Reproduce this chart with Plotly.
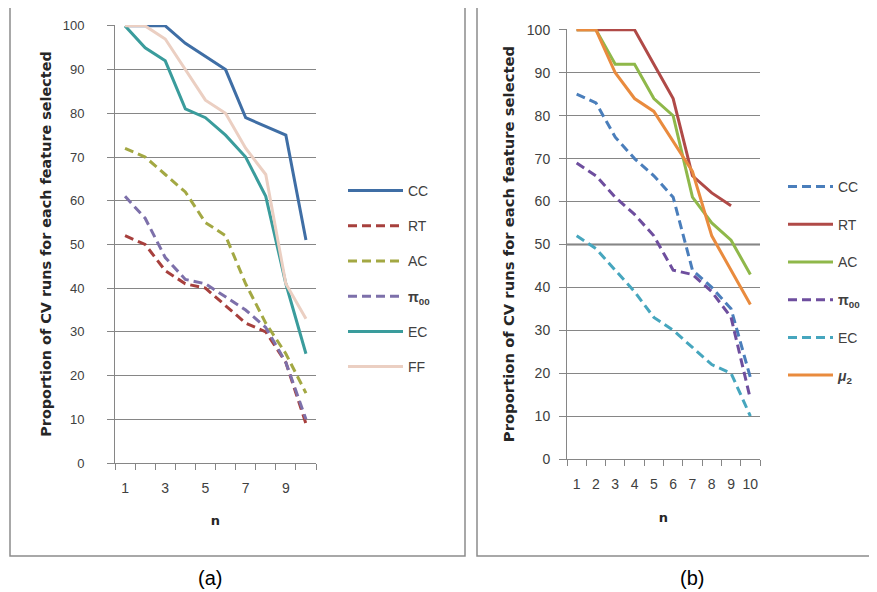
import plotly.graph_objects as go

# ---------------- data ----------------
n = [1, 2, 3, 4, 5, 6, 7, 8, 9, 10]
x_labels_a = ["1", "3", "5", "7", "9"]
x_label_vals_a = [1, 3, 5, 7, 9]
x_labels_b = [str(v) for v in n]
y_ticks = [0, 10, 20, 30, 40, 50, 60, 70, 80, 90, 100]

# panel (a)
cc_a = [100, 100, 100, 96, 93, 90, 79, 77, 75, 51]
rt_a = [52, 50, 44, 41, 40, 36, 32, 30, 23, 9]
ac_a = [72, 70, 66, 62, 55, 52, 41, 32, 25, 16]
m00_a = [61, 56, 47, 42, 41, 38, 35, 31, 23, 10]
ec_a = [100, 95, 92, 81, 79, 75, 70, 61, 41, 25]
ff_a = [100, 100, 97, 90, 83, 80, 72, 66, 41, 33]

# panel (b)
cc_b = [85, 83, 75, 70, 66, 61, 44, 40, 35, 19]
rt_b = [100, 100, 100, 100, 92, 84, 66, 62, 59, None]
ac_b = [100, 100, 92, 92, 84, 80, 61, 55, 51, 43]
m00_b = [69, 66, 61, 57, 52, 44, 43, 39, 33, 14]
ec_b = [52, 49, 44, 39, 33, 30, 26, 22, 20, 10]
mu2_b = [100, 100, 90, 84, 81, 74, 67, 52, 44, 36]

names_a = ["CC", "RT", "AC", "<b>π<sub>00</sub></b>", "EC", "FF"]
names_b = ["CC", "RT", "AC", "<b>π<sub>00</sub></b>", "EC", "<b><i>μ</i><sub>2</sub></b>"]

series_a = [cc_a, rt_a, ac_a, m00_a, ec_a, ff_a]
series_b = [cc_b, rt_b, ac_b, m00_b, ec_b, mu2_b]

colors_a = ["#3F6EA5", "#A7403D", "#A3A843", "#7D70AA", "#3A9C9C", "#EBCFC2"]
dashes_a = ["solid", "9px,5px", "9px,5px", "9px,5px", "solid", "solid"]
colors_b = ["#4A7EBB", "#B04A47", "#8FB84A", "#6E4E9E", "#46A6BE", "#E98B3E"]
dashes_b = ["9px,5px", "solid", "solid", "9px,5px", "9px,5px", "solid"]

# The page body has an 8px margin; the figure fills the rest of the window.
OFF = 8
W, H = 877 - OFF, 592 - OFF
GRID = "#868686"
TXT = "#404040"
YTITLE = "<b>Proportion of CV runs for each feature selected</b>"


def px(x):
    return (x - OFF) / W


def py(y):
    return 1 - (y - OFF) / H


fig = go.Figure()

for i, (nm, vals) in enumerate(zip(names_a, series_a)):
    fig.add_trace(go.Scatter(
        x=n, y=vals, mode="lines", name=nm,
        line=dict(color=colors_a[i], width=3, dash=dashes_a[i]),
        xaxis="x", yaxis="y", legend="legend", legendgroup="a%d" % i,
    ))

for i, (nm, vals) in enumerate(zip(names_b, series_b)):
    fig.add_trace(go.Scatter(
        x=n, y=vals, mode="lines", name=nm,
        line=dict(color=colors_b[i], width=3, dash=dashes_b[i]),
        xaxis="x2", yaxis="y2", legend="legend2", legendgroup="b%d" % i,
    ))

boundaries = [v - 0.5 for v in n] + [n[-1] + 0.5]


def xaxis_common(domain, tickvals, ticktext, font_family, anchor, tstand):
    return dict(
        domain=domain, range=[0.5, 10.5], anchor=anchor, automargin=False,
        tickmode="array", tickvals=tickvals, ticktext=ticktext,
        ticks="outside", ticklen=12, tickcolor="rgba(0,0,0,0)",
        showline=True, linecolor=GRID, linewidth=1,
        showgrid=False, zeroline=False,
        tickfont=dict(family=font_family, size=14, color=TXT),
        minor=dict(tickmode="array", tickvals=boundaries, ticks="outside",
                   ticklen=6, tickcolor=GRID, tickwidth=1, showgrid=False),
        title=dict(text="<b>n</b>", font=dict(family="DejaVu Sans", size=13, color="#262626"),
                   standoff=tstand),
        fixedrange=True,
    )


def yaxis_common(domain, standoff_lbl, title_standoff, anchor, size, title_size):
    return dict(
        domain=domain, range=[0, 100.2], anchor=anchor, automargin=False,
        tickmode="array", tickvals=y_ticks,
        ticks="outside", ticklen=7, tickcolor=GRID,
        showgrid=True, gridcolor=GRID, gridwidth=1,
        showline=True, linecolor=GRID, linewidth=1, zeroline=False,
        ticklabelstandoff=standoff_lbl,
        tickfont=dict(family="Liberation Sans", size=size, color=TXT),
        title=dict(text=YTITLE,
                   font=dict(family="DejaVu Sans", size=title_size, color="#262626"),
                   standoff=title_standoff),
        fixedrange=True,
    )


fig.update_layout(
    width=W, height=H,
    margin=dict(l=0, r=0, t=0, b=0, autoexpand=False),
    paper_bgcolor="white", plot_bgcolor="white",
    xaxis=xaxis_common([px(115), px(316)], x_label_vals_a, x_labels_a, "Liberation Sans", "y", 21),
    yaxis=yaxis_common([py(463), py(25)], 20, 7, "x", 13, 14.4),
    xaxis2=xaxis_common([px(567), px(760)], n, x_labels_b,
                        "Liberation Sans Narrow, Liberation Sans", "y2", 22),
    yaxis2=yaxis_common([py(459), py(29)], 6, 8, "x2", 14, 14.8),
    legend=dict(x=px(343), y=py(175), xanchor="left", yanchor="top",
                font=dict(family="Liberation Sans", size=14, color=TXT),
                itemwidth=55,
                tracegroupgap=14, bgcolor="rgba(0,0,0,0)"),
    legend2=dict(x=px(783), y=py(171), xanchor="left", yanchor="top",
                 font=dict(family="Liberation Sans", size=14, color=TXT),
                 itemwidth=45,
                 tracegroupgap=16.5, bgcolor="rgba(0,0,0,0)"),
    showlegend=True,
    shapes=[
        dict(type="rect", xref="paper", yref="paper",
             x0=px(10), x1=px(465), y0=py(556), y1=py(5),
             line=dict(color="#8C8C8C", width=1.5), layer="below"),
        dict(type="rect", xref="paper", yref="paper",
             x0=px(477), x1=px(871), y0=py(556), y1=py(7),
             line=dict(color="#8C8C8C", width=1.5), layer="below"),
        dict(type="line", xref="x2", yref="y2", x0=0.5, x1=10.5, y0=50, y1=50,
             line=dict(color="#7A7A7A", width=2), layer="below"),
    ],
    annotations=[
        dict(text="(a)", xref="paper", yref="paper", x=px(210), y=py(578),
             xanchor="center", yanchor="middle",
             showarrow=False, font=dict(family="Liberation Sans", size=20, color="black")),
        dict(text="(b)", xref="paper", yref="paper", x=px(692), y=py(578),
             xanchor="center", yanchor="middle",
             showarrow=False, font=dict(family="Liberation Sans", size=20, color="black")),
    ],
)

fig.write_html("out.html")
